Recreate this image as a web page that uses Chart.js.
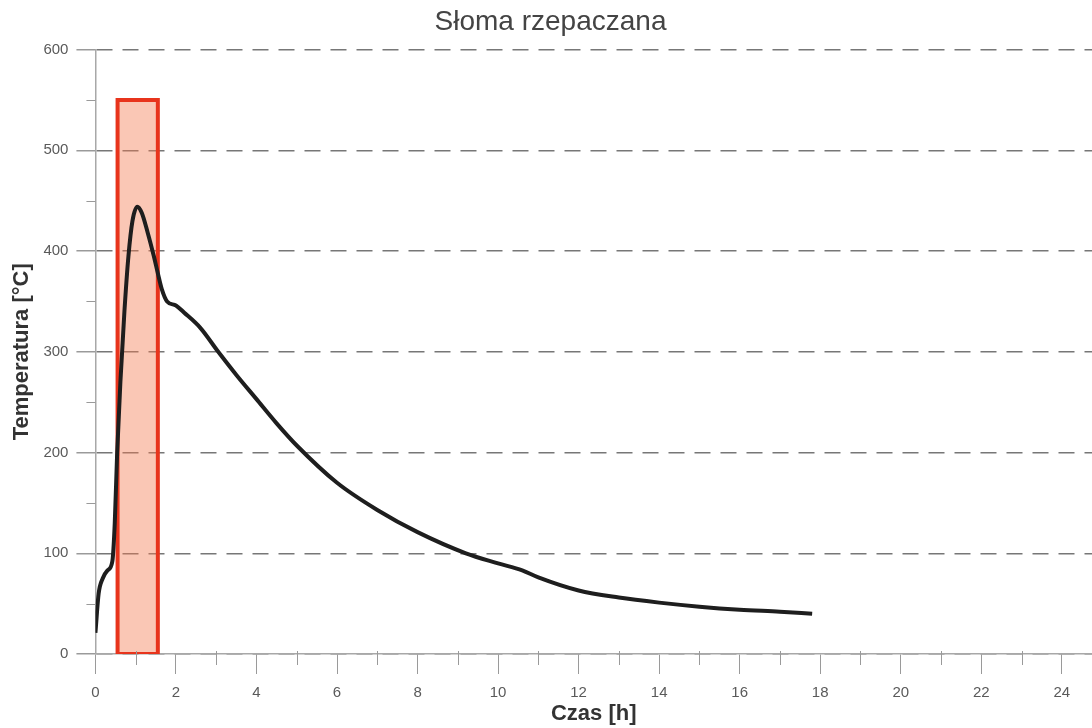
<!DOCTYPE html>
<html>
<head>
<meta charset="utf-8">
<script src="https://cdn.jsdelivr.net/npm/chart.js@4"></script>
<style>
    html, body { margin: 0; padding: 0; background: #fff; }
    #wrap { width: 1092px; height: 728px; }
</style>
</head>
<body>
<div id="wrap"><canvas id="chart"></canvas></div>
<script>
// Temperature curve (time in h, temperature in °C)
const czas = [0, 0.08, 0.18, 0.3, 0.42, 0.48, 0.54, 0.62, 0.72, 0.82, 0.92, 1.04, 1.15, 1.3, 1.45, 1.55, 1.65, 1.78, 2.0, 2.2, 2.6, 3.05, 3.5, 4, 4.5, 5, 6, 7, 8, 9.2, 10, 10.6, 11, 12, 13, 14, 15, 16, 17, 17.8];
const temperatura = [21, 60, 75, 83, 92, 130, 200, 270, 340, 395, 430, 444, 438, 418, 395, 378, 362, 350, 346, 339, 324, 300, 277, 253, 229, 207, 170, 143, 121, 100, 90, 83, 76, 63, 56, 51, 47, 44, 42, 40];

// Highlighted range
const zakresX = [0.55, 1.55];
const zakresY = [0, 550];

const xTicks = [0, 2, 4, 6, 8, 10, 12, 14, 16, 18, 20, 22, 24];
const yTicks = [0, 100, 200, 300, 400, 500, 600];

document.addEventListener('DOMContentLoaded', () => {
    // fill area (open path so the filler can clip it) and its outline
    const rectFill = [
        { x: zakresX[0], y: zakresY[0] },
        { x: zakresX[0], y: zakresY[1] },
        { x: zakresX[1], y: zakresY[1] },
        { x: zakresX[1], y: zakresY[0] }
    ];
    const rectBorder = rectFill.concat([{ x: zakresX[0], y: zakresY[0] }]);
    const curve = czas.map((t, i) => ({ x: t, y: temperatura[i] }));

    // minor ticks on both axes
    const minorTicks = {
        id: 'minorTicks',
        afterDraw(chart) {
            const { ctx, scales: { x, y } } = chart;
            ctx.save();
            ctx.strokeStyle = '#9a9a9a';
            ctx.lineWidth = 1;
            ctx.beginPath();
            for (let v = 1; v <= 24; v += 2) {
                const px = Math.round(x.getPixelForValue(v)) + 0.5;
                ctx.moveTo(px, y.bottom - 3);
                ctx.lineTo(px, y.bottom + 11);
            }
            for (let v = 50; v < 600; v += 100) {
                const py = Math.round(y.getPixelForValue(v)) + 0.5;
                ctx.moveTo(x.left - 9, py);
                ctx.lineTo(x.left, py);
            }
            ctx.stroke();
            ctx.restore();
        }
    };

    const ctx = document.getElementById('chart').getContext('2d');
    new Chart(ctx, {
        type: 'line',
        data: {
            datasets: [
                {
                    label: 'Temperatura',
                    data: curve,
                    borderColor: '#1e1e1e',
                    borderWidth: 4,
                    pointRadius: 0,
                    cubicInterpolationMode: 'monotone',
                    fill: false,
                    order: 0
                },
                {
                    label: 'Zakres ramka',
                    data: rectBorder,
                    borderColor: '#e8341c',
                    borderWidth: 4,
                    pointRadius: 0,
                    tension: 0,
                    fill: false,
                    order: 1
                },
                {
                    label: 'Zakres',
                    data: rectFill,
                    borderWidth: 0,
                    borderColor: 'rgba(0,0,0,0)',
                    backgroundColor: 'rgba(242,122,78,0.42)',
                    pointRadius: 0,
                    tension: 0,
                    fill: 'origin',
                    order: 2
                }
            ]
        },
        options: {
            responsive: true,
            maintainAspectRatio: false,
            animation: false,
            layout: { padding: { top: 0, right: 0, bottom: 3, left: 9 } },
            plugins: {
                legend: { display: false },
                tooltip: { enabled: false },
                title: {
                    display: true,
                    text: 'Słoma rzepaczana',
                    color: '#444',
                    font: { family: 'Liberation Sans', size: 28, weight: 'normal' },
                    padding: { top: 5, bottom: 11 }
                }
            },
            scales: {
                x: {
                    type: 'linear',
                    min: 0,
                    max: 24.75,
                    afterBuildTicks: (scale) => {
                        scale.ticks = xTicks.map(v => ({ value: v }));
                    },
                    ticks: {
                        color: '#5a5a5a',
                        font: { family: 'Liberation Sans', size: 15, lineHeight: 1 },
                        padding: 11,
                        maxRotation: 0
                    },
                    grid: {
                        drawOnChartArea: false,
                        drawTicks: true,
                        tickLength: 20,
                        tickColor: '#9a9a9a'
                    },
                    border: { color: '#a8a8a8', width: 1.5 },
                    title: {
                        display: true,
                        text: 'Czas [h]',
                        color: '#333',
                        font: { family: 'Liberation Sans', size: 22, weight: 'bold', lineHeight: 1 },
                        padding: { top: -8, bottom: 0 }
                    }
                },
                y: {
                    type: 'linear',
                    min: 0,
                    max: 600,
                    afterBuildTicks: (scale) => {
                        scale.ticks = yTicks.map(v => ({ value: v }));
                    },
                    ticks: {
                        color: '#5a5a5a',
                        font: { family: 'Liberation Sans', size: 15 },
                        padding: 8
                    },
                    grid: {
                        color: '#777',
                        lineWidth: 1.5,
                        tickLength: 19,
                        tickColor: '#9a9a9a',
                        tickBorderDash: []
                    },
                    border: { color: '#a8a8a8', width: 1.5, dash: [16, 10] },
                    title: {
                        display: true,
                        text: 'Temperatura [°C]',
                        color: '#333',
                        font: { family: 'Liberation Sans', size: 22, weight: 'bold' },
                        padding: { top: 0, bottom: 0 }
                    }
                }
            }
        },
        plugins: [minorTicks]
    });
});
</script>
</body>
</html>
